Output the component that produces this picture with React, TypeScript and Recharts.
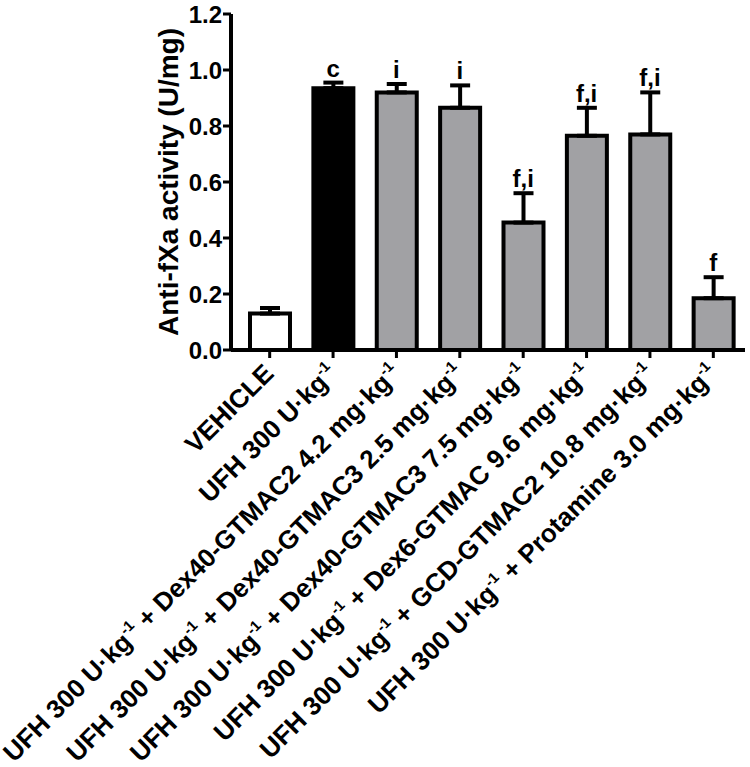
import React from "react";
import { ComposedChart, Bar, Line, XAxis, YAxis, Cell, ErrorBar, LabelList } from "recharts";

const FONT = "'Liberation Sans', Arial, sans-serif";
const GRAY = "#a1a1a4";
const BAR_COLORS = ["#ffffff", "#000000", GRAY, GRAY, GRAY, GRAY, GRAY, GRAY];

// "^-1" marks a superscript -1 in the tick labels
const categories = [
  "VEHICLE",
  "UFH 300 U·kg^-1",
  "UFH 300 U·kg^-1 + Dex40-GTMAC2 4.2 mg·kg^-1",
  "UFH 300 U·kg^-1 + Dex40-GTMAC3 2.5 mg·kg^-1",
  "UFH 300 U·kg^-1 + Dex40-GTMAC3 7.5 mg·kg^-1",
  "UFH 300 U·kg^-1 + Dex6-GTMAC 9.6 mg·kg^-1",
  "UFH 300 U·kg^-1 + GCD-GTMAC2 10.8 mg·kg^-1",
  "UFH 300 U·kg^-1 + Protamine 3.0 mg·kg^-1",
];
const means = [0.13, 0.935, 0.92, 0.865, 0.455, 0.765, 0.77, 0.185];
const sems = [0.02, 0.02, 0.03, 0.08, 0.105, 0.1, 0.15, 0.075];
const notes = ["", "c", "i", "i", "f,i", "f,i", "f,i", "f"];
const yTicks = [0, 0.2, 0.4, 0.6, 0.8, 1.0, 1.2];
const yTitle = "Anti-fXa activity (U/mg)";

const data = categories.map((name, i) => ({
  name,
  mean: means[i],
  err: [0, sems[i]],
  top: means[i] + sems[i],
  note: notes[i],
}));

const XTick = (props: any) => {
  const { x, y, payload } = props;
  const parts = String(payload.value).split("^-1");
  return (
    <g transform={`translate(${x},${y})`}>
      <text
        x={-8}
        y={16}
        transform="rotate(-45)"
        textAnchor="end"
        fontSize={26}
        fontWeight="bold"
        fontFamily={FONT}
        fill="#000"
      >
        {parts.map((p, i) => (
          <React.Fragment key={i}>
            {i > 0 && (
              <tspan dy={-11} fontSize={15}>
                -1
              </tspan>
            )}
            <tspan dy={i > 0 ? 11 : 0}>{p}</tspan>
          </React.Fragment>
        ))}
      </text>
    </g>
  );
};

const YTitle = (props: any) => {
  const vb = props.viewBox ?? { x: 0, y: 14, width: 231, height: 336 };
  const cx = vb.x + vb.width - 53;
  const cy = vb.y + vb.height / 2;
  return (
    <text
      x={cx}
      y={cy}
      transform={`rotate(-90, ${cx}, ${cy})`}
      textAnchor="middle"
      fontSize={28}
      fontWeight="bold"
      fontFamily={FONT}
      fill="#000"
    >
      {yTitle}
    </text>
  );
};

export default function App() {
  return (
    <div style={{ position: "absolute", left: 0, top: 0, background: "#fff" }}>
      <ComposedChart width={750} height={767} data={data} margin={{ top: 14, right: 5, bottom: 0, left: 0 }}>
        <XAxis
          dataKey="name"
          interval={0}
          height={417}
          padding={{ left: 7, right: 0 }}
          axisLine={{ stroke: "#000", strokeWidth: 4 }}
          tickLine={{ stroke: "#000", strokeWidth: 3 }}
          tickSize={8}
          tickMargin={0}
          tick={<XTick />}
        />
        <YAxis
          width={231}
          domain={[0, 1.2]}
          ticks={yTicks}
          interval={0}
          tickFormatter={(v: number) => v.toFixed(1)}
          axisLine={{ stroke: "#000", strokeWidth: 4 }}
          tickLine={{ stroke: "#000", strokeWidth: 3 }}
          tickSize={8}
          tickMargin={1}
          tick={{ fill: "#000", fontSize: 24, fontWeight: "bold", fontFamily: FONT }}
          label={{ content: <YTitle /> }}
        />
        <Bar dataKey="mean" barSize={40} stroke="#000" strokeWidth={4} isAnimationActive={false}>
          {data.map((d, i) => (
            <Cell key={d.name} fill={BAR_COLORS[i]} />
          ))}
          <ErrorBar dataKey="err" direction="y" width={10} stroke="#000" strokeWidth={4} />
        </Bar>
        <Line dataKey="top" stroke="none" dot={false} activeDot={false} legendType="none" isAnimationActive={false}>
          <LabelList
            dataKey="note"
            position="top"
            offset={6}
            fill="#000"
            fontSize={24}
            fontWeight="bold"
            fontFamily={FONT}
          />
        </Line>
      </ComposedChart>
    </div>
  );
}
